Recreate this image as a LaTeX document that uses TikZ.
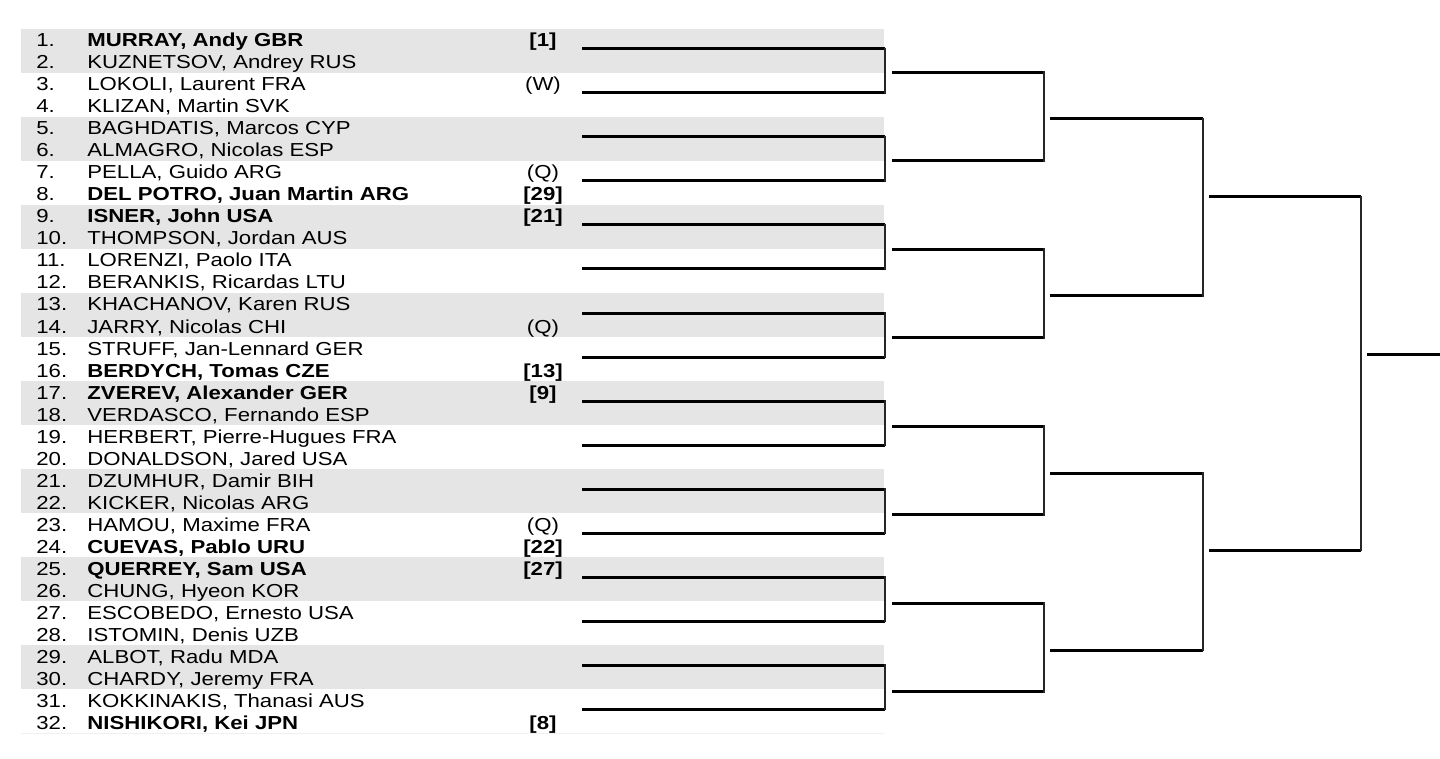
\documentclass[tikz,border=0pt]{standalone}
\usepackage{fontspec}
\setmainfont{Liberation Sans}[FakeStretch=1.18]
\definecolor{bandgray}{RGB}{229,229,229}
\definecolor{rulegray}{RGB}{240,240,240}
\tikzset{
  band/.style={fill=bandgray, draw=none},
  num/.style={anchor=base west, inner sep=0pt, font=\fontsize{9.4pt}{11pt}\selectfont},
  pname/.style={anchor=base west, inner sep=0pt, font=\fontsize{9.4pt}{11pt}\selectfont},
  seedtxt/.style={anchor=base, inner sep=0pt, font=\fontsize{9.4pt}{11pt}\selectfont},
  hline/.style={line width=1.5pt, black},
  vline/.style={line width=1.2pt, black!85, line cap=rect},
}
\newcommand\prow[3]{%
  \node[num] (n#1) at (36,{47+22*(#1-1)}) {#1.};
  \node[pname] (p#1) at (87,{47+22*(#1-1)}) {#2};
  \def\tmpseed{#3}%
  \ifx\tmpseed\empty\else
    \node[seedtxt] (s#1) at (543,{47+22*(#1-1)}) {#3};
  \fi
}
\begin{document}
\begin{tikzpicture}[x=0.5pt, y=-0.5pt]
\useasboundingbox (0,0) rectangle (1440,759);
% bands
\foreach \k in {0,...,7} {
  \fill[band] (21,{29+88*\k}) rectangle (884,{73+88*\k});
}
\draw[rulegray, line width=0.5pt] (21,733) -- (884,733);
% players
\prow{1}{\bfseries MURRAY, Andy GBR}{\bfseries [1]}
\prow{2}{KUZNETSOV, Andrey RUS}{}
\prow{3}{LOKOLI, Laurent FRA}{(W)}
\prow{4}{KLIZAN, Martin SVK}{}
\prow{5}{BAGHDATIS, Marcos CYP}{}
\prow{6}{ALMAGRO, Nicolas ESP}{}
\prow{7}{PELLA, Guido ARG}{(Q)}
\prow{8}{\bfseries DEL POTRO, Juan Martin ARG}{\bfseries [29]}
\prow{9}{\bfseries ISNER, John USA}{\bfseries [21]}
\prow{10}{THOMPSON, Jordan AUS}{}
\prow{11}{LORENZI, Paolo ITA}{}
\prow{12}{BERANKIS, Ricardas LTU}{}
\prow{13}{KHACHANOV, Karen RUS}{}
\prow{14}{JARRY, Nicolas CHI}{(Q)}
\prow{15}{STRUFF, Jan-Lennard GER}{}
\prow{16}{\bfseries BERDYCH, Tomas CZE}{\bfseries [13]}
\prow{17}{\bfseries ZVEREV, Alexander GER}{\bfseries [9]}
\prow{18}{VERDASCO, Fernando ESP}{}
\prow{19}{HERBERT, Pierre-Hugues FRA}{}
\prow{20}{DONALDSON, Jared USA}{}
\prow{21}{DZUMHUR, Damir BIH}{}
\prow{22}{KICKER, Nicolas ARG}{}
\prow{23}{HAMOU, Maxime FRA}{(Q)}
\prow{24}{\bfseries CUEVAS, Pablo URU}{\bfseries [22]}
\prow{25}{\bfseries QUERREY, Sam USA}{\bfseries [27]}
\prow{26}{CHUNG, Hyeon KOR}{}
\prow{27}{ESCOBEDO, Ernesto USA}{}
\prow{28}{ISTOMIN, Denis UZB}{}
\prow{29}{ALBOT, Radu MDA}{}
\prow{30}{CHARDY, Jeremy FRA}{}
\prow{31}{KOKKINAKIS, Thanasi AUS}{}
\prow{32}{\bfseries NISHIKORI, Kei JPN}{\bfseries [8]}
% round 1
\foreach \i in {0,...,15} {
  \coordinate (a\i) at (582,{49+44*\i});
  \coordinate (b\i) at (885,{49+44*\i});
  \draw[hline] (a\i) -- (b\i);
}
\foreach \j in {0,...,7} {
  \pgfmathtruncatemacro\u{2*\j}
  \pgfmathtruncatemacro\v{2*\j+1}
  \draw[vline] (b\u) -- (b\v);
}
% round 2
\foreach \j in {0,...,7} {
  \coordinate (c\j) at (892,{72.3+88.5*\j});
  \coordinate (d\j) at (1044,{72.3+88.5*\j});
  \draw[hline] (c\j) -- (d\j);
}
\foreach \m in {0,...,3} {
  \pgfmathtruncatemacro\u{2*\m}
  \pgfmathtruncatemacro\v{2*\m+1}
  \draw[vline] (d\u) -- (d\v);
}
% round 3
\foreach \m/\yy in {0/119,1/296,2/473,3/650} {
  \coordinate (e\m) at (1050,\yy);
  \coordinate (f\m) at (1203,\yy);
  \draw[hline] (e\m) -- (f\m);
}
\draw[vline] (f0) -- (f1);
\draw[vline] (f2) -- (f3);
% round 4
\coordinate (g0) at (1209,197);
\coordinate (h0) at (1361,197);
\coordinate (g1) at (1209,550);
\coordinate (h1) at (1361,550);
\draw[hline] (g0) -- (h0);
\draw[hline] (g1) -- (h1);
\draw[vline] (h0) -- (h1);
% final
\coordinate (w0) at (1367,354);
\coordinate (w1) at (1440,354);
\draw[hline] (w0) -- (w1);
\end{tikzpicture}
\end{document}
